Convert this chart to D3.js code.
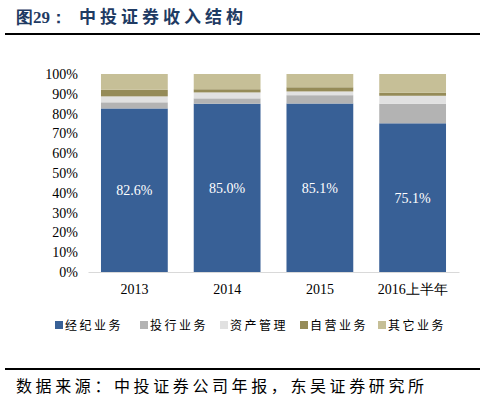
<!DOCTYPE html>
<html><head><meta charset="utf-8">
<script src="https://cdn.jsdelivr.net/npm/d3@7"></script>
<style>body{margin:0;background:#fff}</style>
</head><body>
<script>
// 中投证券收入结构 (%)
var years = ['2013', '2014', '2015', '2016上半年'];
var seriesNames = ['经纪业务', '投行业务', '资产管理', '自营业务', '其它业务'];
var brokerage = [82.6, 85.0, 85.1, 75.1];
var ibanking = [3.1, 2.7, 4.2, 9.9];
var assetMgmt = [3.0, 3.0, 1.9, 4.0];
var proprietary = [3.3, 1.6, 2.1, 1.5];
var others = [8.0, 7.7, 6.7, 9.5];
var yTicks = [0, 10, 20, 30, 40, 50, 60, 70, 80, 90, 100];
var colors = ['#386096', '#b3b3b3', '#e1e1e1', '#958b58', '#c6bf97'];

var W = 486, H = 403;
var svg = d3.select('body').append('svg').attr('width', W).attr('height', H);
var serif = '"Liberation Serif","Times New Roman",serif';
var cjk = '"Noto Sans CJK SC",sans-serif';

var title = svg.append('text').attr('x', 16).attr('y', 23)
  .attr('font-weight', 'bold').attr('font-size', 17).attr('fill', '#1f3b63');
title.append('tspan').attr('font-family', serif).text('图29：');
title.append('tspan').attr('font-family', cjk).attr('dx', 12).attr('letter-spacing', 4).text('中投证券收入结构');
svg.append('line').attr('x1', 5).attr('x2', 480).attr('y1', 34).attr('y2', 34)
  .attr('stroke', '#000').attr('stroke-width', 2);

var x = d3.scaleBand().domain(years).range([88, 459]).paddingInner(0.28).paddingOuter(0.14);
var y = d3.scaleLinear().domain([0, 100]).range([272, 74]);

var rows = years.map(function (yr, i) {
  return {year: yr, vals: [brokerage[i], ibanking[i], assetMgmt[i], proprietary[i], others[i]]};
});

svg.append('g').attr('transform', 'translate(88,0)')
  .call(d3.axisLeft(y).tickValues(yTicks).tickSize(0).tickPadding(10).tickFormat(function (d) { return d + '%'; }))
  .call(function (g) {
    g.select('.domain').remove();
    g.selectAll('text').attr('font-family', serif).attr('font-size', 14).attr('fill', '#000');
  });

rows.forEach(function (r) {
  var acc = 0;
  r.vals.forEach(function (v, k) {
    svg.append('rect').attr('x', x(r.year)).attr('width', x.bandwidth())
      .attr('y', y(acc + v)).attr('height', y(acc) - y(acc + v)).attr('fill', colors[k]);
    acc += v;
  });
  svg.append('text').attr('x', x(r.year) + x.bandwidth() / 2).attr('y', y(r.vals[0] / 2) + 5)
    .attr('text-anchor', 'middle').attr('font-family', serif).attr('font-size', 14)
    .attr('fill', '#fff').text(r.vals[0].toFixed(1) + '%');
});

svg.append('g').attr('transform', 'translate(0,272)')
  .call(d3.axisBottom(x).tickSize(0).tickPadding(12))
  .call(function (g) {
    g.select('.domain').attr('stroke', '#d9d9d9');
    g.selectAll('text').attr('font-family', serif).attr('font-size', 14).attr('fill', '#000');
  });

var legend = svg.append('g');
var lx = [55, 140, 220, 300, 378];
seriesNames.forEach(function (n, k) {
  legend.append('rect').attr('x', lx[k]).attr('y', 321).attr('width', 8).attr('height', 8).attr('fill', colors[k]);
  legend.append('text').attr('x', lx[k] + 10).attr('y', 330).attr('font-family', cjk)
    .attr('font-size', 12).attr('letter-spacing', 2.5).attr('fill', '#000').text(n);
});

svg.append('line').attr('x1', 5).attr('x2', 480).attr('y1', 369).attr('y2', 369)
  .attr('stroke', '#000').attr('stroke-width', 2);
svg.append('text').attr('x', 16).attr('y', 392).attr('font-family', cjk).attr('font-size', 16)
  .attr('letter-spacing', 3.6).attr('fill', '#000').text('数据来源：中投证券公司年报，东吴证券研究所');
</script>
</body></html>
